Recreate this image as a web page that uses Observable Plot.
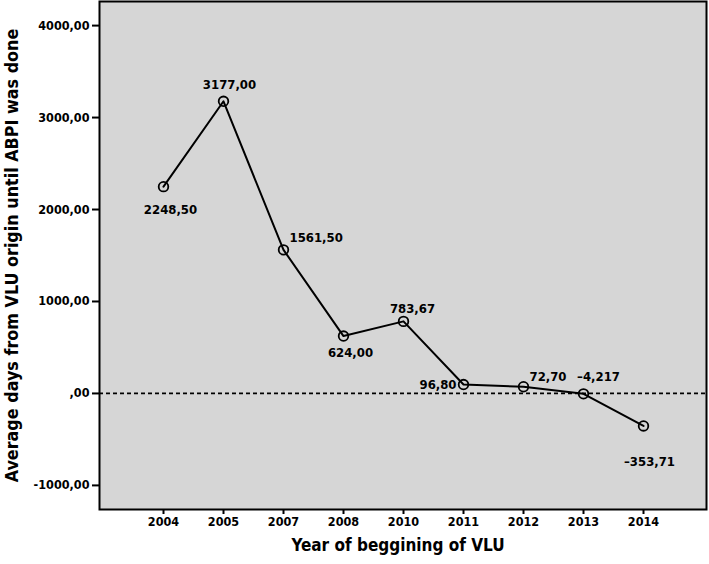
<!DOCTYPE html>
<html>
<head>
<meta charset="utf-8">
<script src="https://cdn.jsdelivr.net/npm/d3@7"></script>
<script src="https://cdn.jsdelivr.net/npm/@observablehq/plot@0.6"></script>
<style>
  html, body { margin: 0; padding: 0; background: #fff; }
  #chart svg { display: block; }
</style>
</head>
<body>
<div id="chart"></div>
<script>
const years = ["2004", "2005", "2007", "2008", "2010", "2011", "2012", "2013", "2014"];
const values = [2248.5, 3177, 1561.5, 624, 783.67, 96.8, 72.7, -4.217, -353.71];
const valueLabels = ["2248,50", "3177,00", "1561,50", "624,00", "783,67", "96,80", "72,70", "–4,217", "–353,71"];
const yTicks = [-1000, 0, 1000, 2000, 3000, 4000];
const yTickLabels = ["-1000,00", ",00", "1000,00", "2000,00", "3000,00", "4000,00"];
const xTitle = "Year of beggining of VLU";
const yTitle = "Average days from VLU origin until ABPI was done";

const rows = years.map((y, i) => ({year: y, value: values[i], label: valueLabels[i]}));

// label placement (styling) keyed by year
const place = {
  "2004": {dx: 7, dy: 23, textAnchor: "middle"},
  "2005": {dx: 6, dy: -16, textAnchor: "middle"},
  "2007": {dx: 6, dy: -12, textAnchor: "start"},
  "2008": {dx: 7, dy: 17, textAnchor: "middle"},
  "2010": {dx: 9, dy: -13, textAnchor: "middle"},
  "2011": {dx: -7, dy: 0, textAnchor: "end"},
  "2012": {dx: 6, dy: -10, textAnchor: "start"},
  "2013": {dx: 15, dy: -17, textAnchor: "middle"},
  "2014": {dx: 6, dy: 36, textAnchor: "middle"}
};

const font = "'DejaVu Sans Condensed', 'DejaVu Sans', sans-serif";

const chart = Plot.plot({
  width: 709,
  height: 564,
  marginLeft: 99,
  marginRight: 3,
  marginTop: 1,
  marginBottom: 55,
  style: {fontFamily: font, fontSize: "12.5px", fontWeight: "bold", fontStretch: "condensed", background: "#fff", color: "#000"},
  x: {type: "point", domain: years, padding: 1, axis: null},
  y: {domain: [-1262, 4262], axis: null},
  marks: [
    Plot.frame({fill: "#d6d6d6", stroke: null}),
    Plot.ruleY([0], {stroke: "#000", strokeWidth: 1.8, strokeDasharray: "4,3"}),
    Plot.line(rows, {x: "year", y: "value", stroke: "#000", strokeWidth: 2}),
    Plot.dot(rows, {x: "year", y: "value", r: 4.8, stroke: "#000", strokeWidth: 1.8, fill: "none"}),
    ...rows.map(r => Plot.text([r], {x: "year", y: "value", text: "label", fontSize: 13, fill: "#000", ...place[r.year]})),
    Plot.axisY(yTicks, {tickFormat: d => yTickLabels[yTicks.indexOf(d)], tickSize: 7, tickPadding: 3, strokeWidth: 2, label: null, fontSize: 12.5}),
    Plot.axisX({tickSize: 5, tickPadding: 3, strokeWidth: 2, label: null, fontSize: 12.5}),
    Plot.frame({stroke: "#000", strokeWidth: 2, fill: "none"}),
    Plot.text([yTitle], {frameAnchor: "left", dx: -87, rotate: -90, textAnchor: "middle", fontSize: 17.8, fontWeight: "bold", fill: "#000"}),
    Plot.text([xTitle], {frameAnchor: "bottom", dx: -5, dy: 41, textAnchor: "middle", fontSize: 17, fontWeight: "bold", fill: "#000"})
  ]
});
document.getElementById("chart").appendChild(chart);
</script>
</body>
</html>
